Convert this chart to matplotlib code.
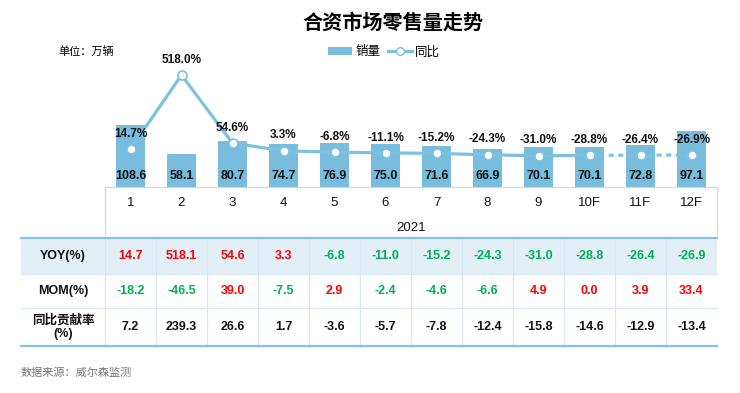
import matplotlib

matplotlib.use("Agg")

import matplotlib.pyplot as plt  # noqa: E402
from matplotlib.lines import Line2D  # noqa: E402
from matplotlib.patches import Patch, Rectangle  # noqa: E402

plt.rcParams["font.family"] = ["Liberation Sans", "Noto Sans CJK SC", "DejaVu Sans"]

# data
months = ["1", "2", "3", "4", "5", "6", "7", "8", "9", "10F", "11F", "12F"]
sales = [108.6, 58.1, 80.7, 74.7, 76.9, 75.0, 71.6, 66.9, 70.1, 70.1, 72.8, 97.1]
yoy_pct = [14.7, 518.0, 54.6, 3.3, -6.8, -11.1, -15.2, -24.3, -31.0, -28.8, -26.4, -26.9]
n_actual = 10  # solid line up to 10F, dashed afterwards
year_label = "2021"

row_names = ["YOY(%)", "MOM(%)", "同比贡献率\n(%)"]
yoy_row = [14.7, 518.1, 54.6, 3.3, -6.8, -11.0, -15.2, -24.3, -31.0, -28.8, -26.4, -26.9]
mom_row = [-18.2, -46.5, 39.0, -7.5, 2.9, -2.4, -4.6, -6.6, 4.9, 0.0, 3.9, 33.4]
contrib_row = [7.2, 239.3, 26.6, 1.7, -3.6, -5.7, -7.8, -12.4, -15.8, -14.6, -12.9, -13.4]

# styling
BAR = "#78BDDE"
LINE = "#7DC0E0"
RED = "#FF0000"
GREEN = "#00B050"
INK = "#111111"
GREYLINE = "#D9D9D9"
TBL_EDGE = "#86C1E2"
TBL_INNER = "#D7E8F4"
TBL_FILL = "#E2EFF7"

W, H = 740, 393
fig = plt.figure(figsize=(W / 100, H / 100), dpi=100)


def fbox(left, top, right, bottom):
    return [left / W, 1 - bottom / H, (right - left) / W, (bottom - top) / H]


# layout in pixels
X0, X1 = 105, 717
COLW = (X1 - X0) / len(months)
BASE, TOP = 187, 40

# overlay for the category box and the table
ov = fig.add_axes([0, 0, 1, 1], zorder=0)
ov.set_xlim(0, W)
ov.set_ylim(H, 0)
ov.axis("off")

# main chart: bars
ax = fig.add_axes(fbox(X0, TOP, X1, BASE), zorder=2)
ax.patch.set_alpha(0)
x = list(range(len(months)))
ax.bar(x, sales, width=0.55, color=BAR, zorder=2)
for xi, v in zip(x, sales):
    ax.text(xi, 19, f"{v:.1f}", ha="center", va="center",
            fontsize=9, fontweight="bold", color=INK, zorder=3)
ax.set_xlim(-0.5, len(months) - 0.5)
ax.set_ylim(0, (BASE - TOP) / 0.574)
ax.axis("off")

# yoy line on secondary scale
ax2 = ax.twinx()
ax2.plot(x[:n_actual], yoy_pct[:n_actual], color=LINE, lw=2.3,
         marker="o", ms=6.5, mfc="white", mec=LINE, mew=1.2, zorder=4)
ax2.plot(x[n_actual - 1:], yoy_pct[n_actual - 1:], color=LINE, lw=2.3,
         ls=(0, (1.6, 1.4)), marker="o", ms=6.5, mfc="white", mec=LINE,
         mew=1.2, zorder=4)
for xi, v in zip(x, yoy_pct):
    ax2.annotate(f"{v:.1f}%", (xi, v), xytext=(0, 11), textcoords="offset points",
                 ha="center", va="center", fontsize=8.5, fontweight="bold",
                 color=INK, zorder=5)
zero2 = 151.2
ax2.set_ylim(-(BASE - zero2) / 0.147, (zero2 - TOP) / 0.147)
ax2.axis("off")

# category axis box
ov.plot([X0, X1], [BASE, BASE], color=GREYLINE, lw=1)
ov.plot([X0, X0], [BASE, 235], color=GREYLINE, lw=1)
ov.plot([X1, X1], [BASE, 235], color=GREYLINE, lw=1)
for i, m in enumerate(months):
    ov.text(X0 + COLW * (i + 0.5), 203, m, ha="center", va="center",
            fontsize=9.5, color=INK)
ov.text((X0 + X1) / 2, 228, year_label, ha="center", va="center",
        fontsize=9.5, color=INK)

# table
TX0 = 21
rows_y = [238, 274, 308, 346]
ov.add_patch(Rectangle((TX0, rows_y[0]), X1 - TX0, rows_y[1] - rows_y[0],
                       facecolor=TBL_FILL, edgecolor="none"))
for yy in rows_y[1:3]:
    ov.plot([TX0, X1], [yy, yy], color=TBL_INNER, lw=0.9)
for k in range(len(months)):
    xx = X0 + COLW * k
    ov.plot([xx, xx], [rows_y[0], rows_y[-1]], color=TBL_INNER, lw=0.9)
ov.plot([TX0, X1], [rows_y[0], rows_y[0]], color=TBL_EDGE, lw=1.6)
ov.plot([TX0, X1], [rows_y[-1], rows_y[-1]], color=TBL_EDGE, lw=1.6)

table_rows = [yoy_row, mom_row, contrib_row]
for r, (name, vals) in enumerate(zip(row_names, table_rows)):
    yc = (rows_y[r] + rows_y[r + 1]) / 2
    ov.text((TX0 + X0) / 2, yc, name, ha="center", va="center", fontsize=9,
            fontweight="bold", color=INK, linespacing=1.1)
    for i, v in enumerate(vals):
        if r < 2:
            col = RED if v >= 0 else GREEN
        else:
            col = INK
        ov.text(X0 + COLW * (i + 0.5), yc, f"{v:.1f}", ha="center", va="center",
                fontsize=9, fontweight="bold", color=col)

# titles and notes
fig.text(393 / W, 1 - 22 / H, "合资市场零售量走势", ha="center", va="center",
         fontsize=14.5, fontweight="bold", family=["Noto Sans CJK SC"])
fig.text(58 / W, 1 - 52 / H, "单位：万辆", ha="left", va="center", fontsize=8,
         family=["Noto Sans CJK SC"])
fig.text(21 / W, 1 - 373 / H, "数据来源：威尔森监测", ha="left", va="center",
         fontsize=8, color="#777777", family=["Noto Sans CJK SC"])

handles = [
    Patch(facecolor=BAR, edgecolor="none"),
    Line2D([], [], color=LINE, lw=2.3, marker="o", ms=5.5, mfc="white", mec=LINE),
]
fig.legend(handles, ["销量", "同比"], loc="center", bbox_to_anchor=(384 / W, 1 - 52 / H),
           ncol=2, frameon=False, handlelength=1.9, handleheight=0.6,
           columnspacing=0.6, handletextpad=0.3,
           prop={"family": ["Noto Sans CJK SC"], "size": 9})

fig.savefig("out.png", dpi=100)
